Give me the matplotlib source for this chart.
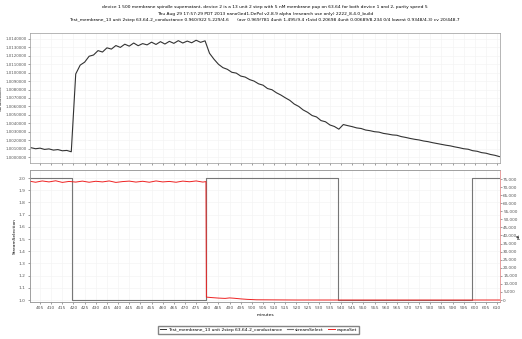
import numpy as np
import matplotlib
matplotlib.use("Agg")
import matplotlib.pyplot as plt

# conductance trace, sampled every 2 minutes
cond_time = np.arange(401, 612, 2)
cond_value = [
    1.00110, 1.00098, 1.00105, 1.00090, 1.00096, 1.00082, 1.00088, 1.00074, 1.00078, 1.00062,
    1.00985, 1.01090, 1.01125, 1.01195, 1.01210, 1.01262, 1.01245, 1.01295, 1.01280, 1.01322,
    1.01300, 1.01338, 1.01315, 1.01352, 1.01320, 1.01345, 1.01330, 1.01362, 1.01335, 1.01368,
    1.01340, 1.01372, 1.01348, 1.01380, 1.01352, 1.01375, 1.01355, 1.01385, 1.01360, 1.01378,
    1.01230, 1.01160, 1.01100, 1.01060, 1.01040, 1.01005, 1.00995, 1.00960, 1.00948, 1.00918,
    1.00900, 1.00868, 1.00852, 1.00812, 1.00798, 1.00762, 1.00735, 1.00702, 1.00672, 1.00628,
    1.00600, 1.00558, 1.00530, 1.00492, 1.00475, 1.00432, 1.00418, 1.00380, 1.00362, 1.00330,
    1.00385, 1.00372, 1.00360, 1.00345, 1.00338, 1.00320, 1.00312, 1.00300, 1.00295, 1.00280,
    1.00272, 1.00262, 1.00258, 1.00242, 1.00232, 1.00220, 1.00210, 1.00202, 1.00190, 1.00182,
    1.00170, 1.00160, 1.00150, 1.00140, 1.00132, 1.00120, 1.00110, 1.00098, 1.00092, 1.00075,
    1.00068, 1.00052, 1.00045, 1.00030, 1.00020, 1.00005,
]

# stream selector (step signal)
stream_time = [400.5, 419.3, 419.3, 479.4, 479.4, 538.7, 538.7, 598.8, 598.8, 611.3]
stream_value = [2.0, 2.0, 1.0, 1.0, 2.0, 2.0, 1.0, 1.0, 2.0, 2.0]

# red trace on right axis
red_time = [400.5, 403, 406, 409, 412, 415, 418, 421, 424, 427, 430, 433, 436, 439, 442,
            445, 448, 451, 454, 457, 460, 463, 466, 469, 472, 475, 478, 479.4,
            479.6, 482, 485, 488, 490, 492, 495, 498, 502, 520, 560, 611.3]
red_value = [73600, 73000, 73800, 73200, 73900, 72900, 73500, 73100, 73700, 73000, 73600,
             73200, 73800, 72900, 73400, 73700, 73100, 73600, 73000, 73800, 73200, 73500,
             73000, 73700, 73300, 73800, 73100, 73400,
             1800, 1500, 1200, 1000, 1300, 1100, 700, 400, 150, 0, 0, 0]

xticks = list(range(405, 611, 5))

title = ("device 1 500 membrane spindle supernatant, device 2 is a 13 unit 2 step with 5 nM membrane "
         "pup on 63.64 for both device 1 and 2, purity speed 5\n"
         "Thu Aug 29 17:57:29 PDT 2013 nanoGed1.DePol v2.8.9 alpha (research use only) 2222_8.4.0_build\n"
         "Test_membrane_13 unit 2step 63.64-2_conductance 0.960/922 5.229/4.6      "
         "(avr 0.969/781 4unit 1.495/9.4 r1std 0.20698 4unit 0.00689/8.234 0/4 lowest 0.9348/4.3) cv 20/448.7")

fs = 3.2
frame = "#999999"
left, width = 0.0575, 0.9005

fig = plt.figure(figsize=(5.22, 3.39), dpi=100)
fig.text(0.507, 0.985, title, ha="center", va="top", fontsize=fs, linespacing=1.9)

ax1 = fig.add_axes([left, 0.5192, width, 0.3835])
ax1.plot(cond_time, cond_value, color="#333333", lw=0.8)
ax1.set_xlim(400.5, 611.3)
ax1.set_ylim(0.99929, 1.01471)
ax1.set_yticks(np.arange(1.000, 1.0145, 0.001))
ax1.set_yticklabels(["%.7f" % v for v in np.arange(1.000, 1.0145, 0.001)])
ax1.set_xticks(xticks)
ax1.tick_params(labelbottom=False, length=1.2, width=0.4, labelsize=2.9, pad=0.8, colors="#555555")
ax1.set_ylabel("Conductance", fontsize=2.8)
ax1.yaxis.set_label_coords(-0.0585, 0.5)
ax1.grid(True, color="#f2f2f2", lw=0.4)

ax2 = fig.add_axes([left, 0.1091, width, 0.3894])
l2, = ax2.plot(stream_time, stream_value, color="#777777", lw=0.8)
ax2.set_xlim(400.5, 611.3)
ax2.set_ylim(0.984, 2.066)
ax2.set_yticks(np.arange(1.0, 2.05, 0.1))
ax2.set_yticklabels(["%.1f" % v for v in np.arange(1.0, 2.05, 0.1)])
ax2.set_xticks(xticks)
ax2.tick_params(length=1.5, width=0.4, labelsize=fs, pad=1.5, colors="#555555")
ax2.set_xlabel("minutes", fontsize=fs, labelpad=2)
ax2.set_ylabel("StreamSelection", fontsize=fs)
ax2.yaxis.set_label_coords(-0.028, 0.5)
ax2.grid(True, color="#f2f2f2", lw=0.4)

ax3 = ax2.twinx()
l3, = ax3.plot(red_time, red_value, color="#ee2222", lw=0.7)
ax3.set_ylim(-1240, 80580)
ax3.set_yticks(range(0, 75001, 5000))
ax3.set_yticklabels(["{:,}".format(v) for v in range(0, 75001, 5000)])
ax3.tick_params(length=1.2, width=0.4, labelsize=3.0, pad=1, colors="#555555")
ax3.set_ylabel("pA", fontsize=3.0)
ax3.yaxis.set_label_coords(1.036, 0.5)

for ax in (ax1, ax2, ax3):
    for s in ax.spines.values():
        s.set_color(frame)
        s.set_linewidth(0.5)
ax3.spines["right"].set_color("#ff9999")

l1, = ax1.plot([], [], color="#333333", lw=0.7)
fig.legend([l1, l2, l3],
           ["Test_membrane_13 unit 2step 63.64-2_conductance", "streamSelect", "capnoSet"],
           loc="center", bbox_to_anchor=(0.495, 0.027), ncol=3, fontsize=fs,
           frameon=True, fancybox=False, edgecolor="#666666", handlelength=1.5,
           columnspacing=1.0, handletextpad=0.4, borderpad=0.4)

fig.savefig("out.png", dpi=100)
